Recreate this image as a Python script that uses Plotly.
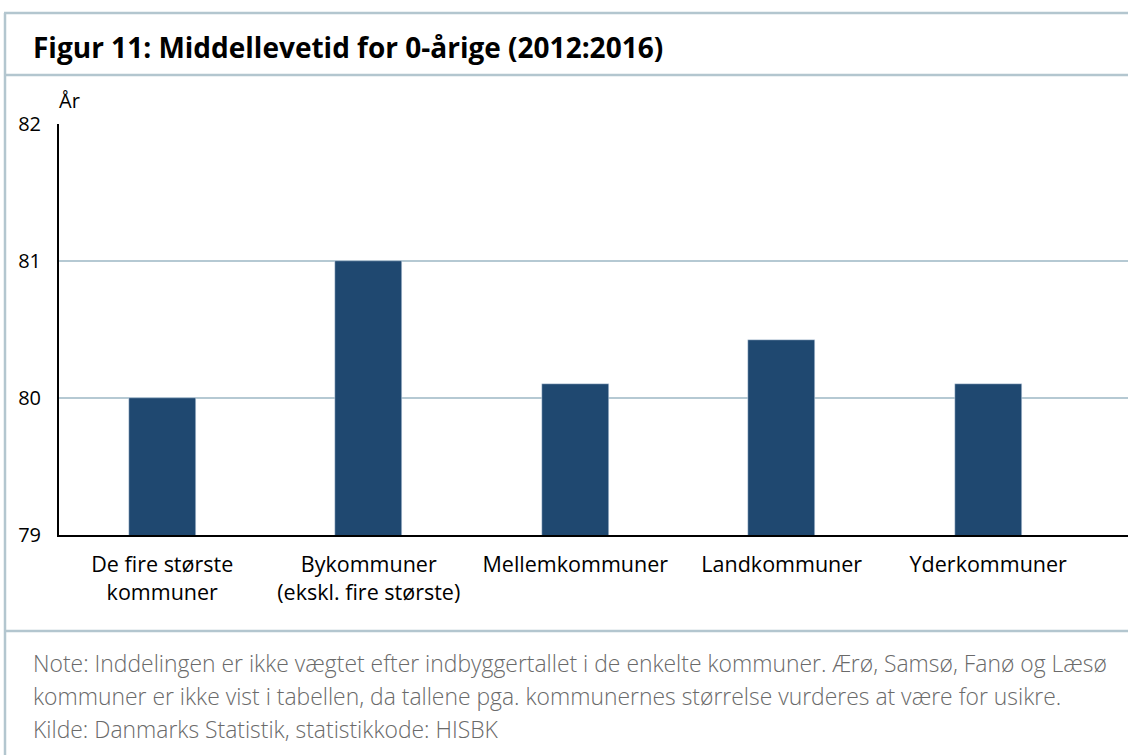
import plotly.graph_objects as go

categories = ["De fire største<br>kommuner", "Bykommuner<br>(ekskl. fire største)",
              "Mellemkommuner", "Landkommuner", "Yderkommuner"]
values = [80.0, 81.0, 80.1, 80.42, 80.1]
y_ticks = [79, 80, 81, 82]

title_text = "Figur 11: Middellevetid for 0-årige (2012:2016)"
y_unit = "År"
note_lines = [
    "Note: Inddelingen er ikke vægtet efter indbyggertallet i de enkelte kommuner. Ærø, Samsø, Fanø og Læsø",
    "kommuner er ikke vist i tabellen, da tallene pga. kommunernes størrelse vurderes at være for usikre.",
    "Kilde: Danmarks Statistik, statistikkode: HISBK",
]

W, H = 1128, 755
ML, MR, MT, MB = 59, 0, 124, 220
PW, PH = W - ML - MR, H - MT - MB


def px(x):
    return (x - ML) / PW


def py(y):
    return (H - MB - y) / PH


BAR = "#1f4870"
BORDER = "#b3c6cf"
GRID = "#b5c9d3"
FONT = "Open Sans"

fig = go.Figure(go.Bar(x=list(range(len(categories))), y=values,
                       marker_color=BAR, width=0.325))

fig.update_layout(
    width=W, height=H, autosize=False,
    margin=dict(l=ML, r=MR, t=MT, b=MB),
    paper_bgcolor="white", plot_bgcolor="white",
    font=dict(family=FONT, size=20, color="#000"),
    showlegend=False, bargap=0,
)
fig.update_xaxes(
    range=[-0.5, -0.5 + PW / 206.5],
    tickvals=list(range(len(categories))), ticktext=categories,
    showline=True, linecolor="#000", linewidth=2,
    showgrid=False, ticks="", ticklabelstandoff=9,
    tickfont=dict(size=21.5, color="#000"),
)
fig.update_yaxes(
    range=[79, 82], tickvals=y_ticks,
    showline=True, linecolor="#000", linewidth=2,
    showgrid=True, gridcolor=GRID, gridwidth=2,
    zeroline=False, ticks="", ticklabelstandoff=12,
    tickfont=dict(size=20, color="#000"),
)

shapes = []
for (x0, y0, x1, y1) in [(4, 13, W, 13), (5, 13, 5, H), (5, 75, W, 75), (5, 631, W, 631)]:
    shapes.append(dict(type="line", xref="paper", yref="paper",
                       x0=px(x0), y0=py(y0), x1=px(x1), y1=py(y1),
                       line=dict(color=BORDER, width=2.5)))
fig.update_layout(shapes=shapes)

ann = [
    dict(text=f"<b>{title_text}</b>", x=px(31), y=py(47), xanchor="left", yanchor="middle",
         font=dict(family=FONT, size=28, color="#000")),
    dict(text=y_unit, x=px(57), y=py(100), xanchor="left", yanchor="middle",
         font=dict(family=FONT, size=20, color="#000")),
]
for i, line in enumerate(note_lines):
    ann.append(dict(text=line, x=px(31), y=py(663 + 33 * i), xanchor="left", yanchor="middle",
                    font=dict(family=FONT, size=22.9, color="#6a6a6a", weight=300)))
for a in ann:
    a.update(xref="paper", yref="paper", showarrow=False)
fig.update_layout(annotations=ann)

fig.write_html("out.html", config={"displayModeBar": False},
               post_script="document.body.style.margin='0';")
